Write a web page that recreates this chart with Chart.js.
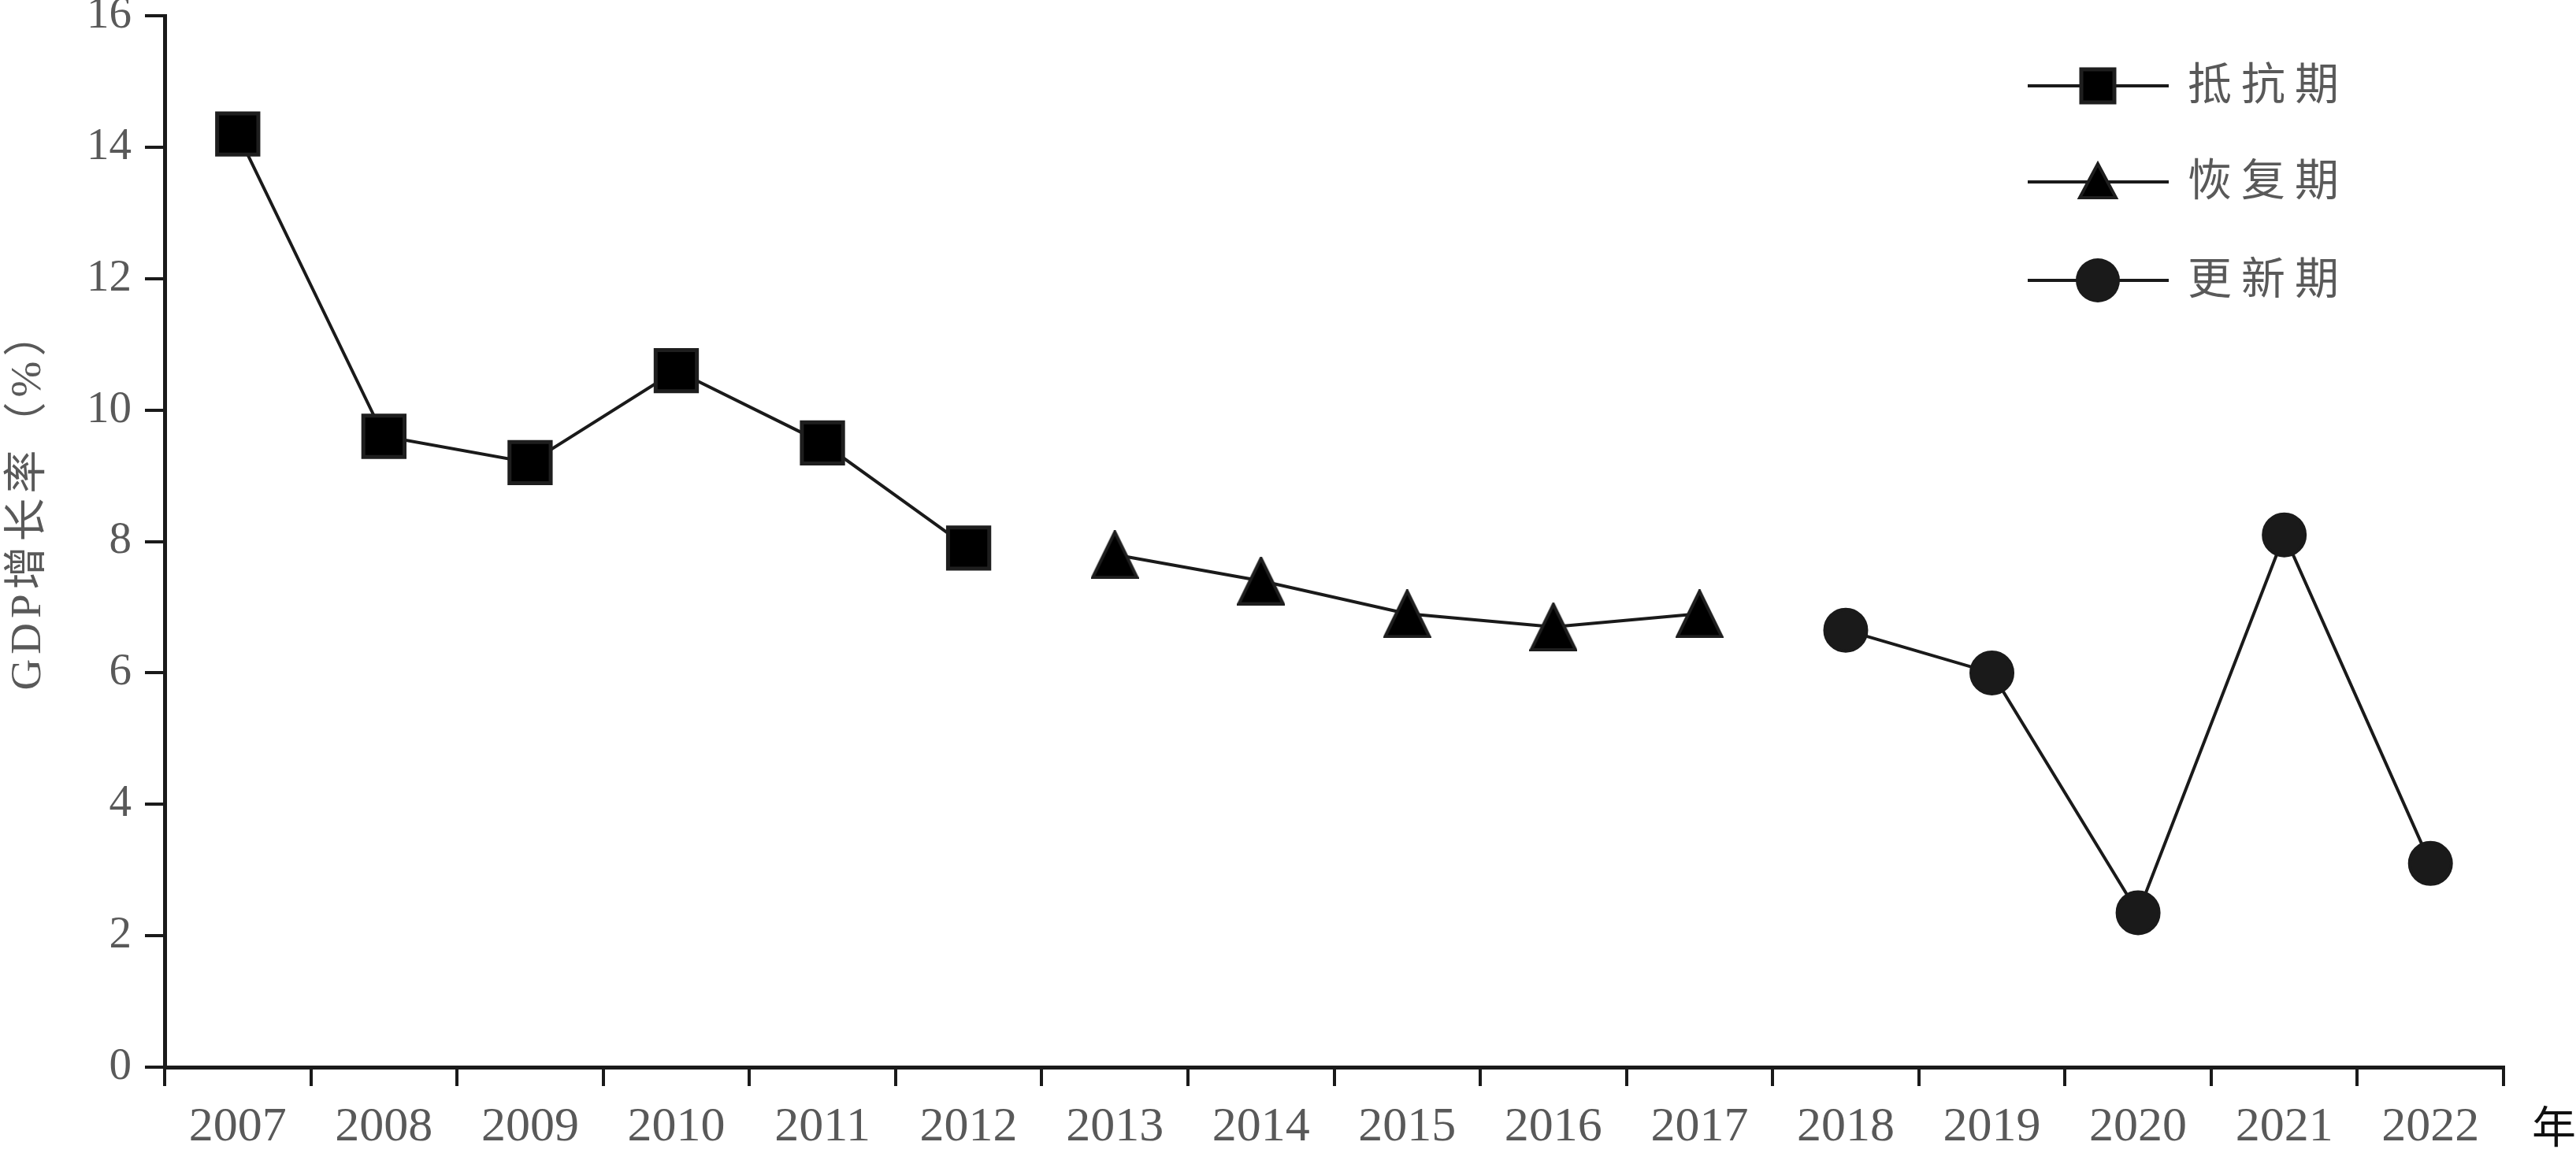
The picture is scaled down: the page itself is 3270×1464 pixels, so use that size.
<!DOCTYPE html>
<html><head><meta charset="utf-8">
<script src="https://cdn.jsdelivr.net/npm/chart.js@4.4.1/dist/chart.umd.min.js"></script>
<style>html,body{margin:0;padding:0;background:#fff;overflow:hidden}#c{display:block}</style>
</head><body>
<canvas id="c" width="3270" height="1464" style="width:3270px;height:1464px"></canvas>
<script>
// ---- data ----
const years = ['2007','2008','2009','2010','2011','2012','2013','2014','2015','2016','2017','2018','2019','2020','2021','2022'];
const resistanceYears = ['2007','2008','2009','2010','2011','2012'];
const resistanceValues = [14.2, 9.6, 9.2, 10.6, 9.5, 7.9];
const recoveryYears = ['2013','2014','2015','2016','2017'];
const recoveryValues = [7.8, 7.4, 6.9, 6.7, 6.9];
const renewalYears = ['2018','2019','2020','2021','2022'];
const renewalValues = [6.65, 6.0, 2.35, 8.1, 3.1];
const seriesNames = ['抵抗期', '恢复期', '更新期'];
const yMin = 0, yMax = 16, yStep = 2;
const yTitle = 'GDP增长率（%）';
const xUnit = '年';

// ---- styles ----
const INK = '#1a1a1a';
const TEXT = '#595959';
const SERIF = "'Liberation Serif', 'Noto Sans CJK SC', serif";

function triangleImage(w, h, lw) {
  const cv = document.createElement('canvas');
  cv.width = w; cv.height = h;
  const c = cv.getContext('2d');
  c.beginPath();
  c.moveTo(w / 2, lw * 0.6);
  c.lineTo(w - lw * 0.6, h - lw / 2);
  c.lineTo(lw * 0.6, h - lw / 2);
  c.closePath();
  c.fillStyle = '#000';
  c.fill();
  c.lineWidth = lw;
  c.lineJoin = 'miter';
  c.strokeStyle = '#1e1e1e';
  c.stroke();
  return cv;
}
const triImg = triangleImage(61, 62, 4);

function pairs(xs, ys) { return xs.map((x, i) => ({ x: x, y: ys[i] })); }

const datasets = [
  { label: seriesNames[0], data: pairs(resistanceYears, resistanceValues),
    borderColor: INK, borderWidth: 4, pointStyle: 'rect', pointRadius: 37,
    pointBackgroundColor: '#000', pointBorderColor: '#1e1e1e', pointBorderWidth: 5,
    tension: 0, fill: false },
  { label: seriesNames[1], data: pairs(recoveryYears, recoveryValues),
    borderColor: INK, borderWidth: 4, pointStyle: triImg, pointRadius: 31,
    pointBackgroundColor: '#000', pointBorderColor: '#1e1e1e', pointBorderWidth: 0,
    tension: 0, fill: false },
  { label: seriesNames[2], data: pairs(renewalYears, renewalValues),
    borderColor: INK, borderWidth: 4, pointStyle: 'circle', pointRadius: 26.5,
    pointBackgroundColor: INK, pointBorderColor: INK, pointBorderWidth: 4,
    tension: 0, fill: false }
];

const overlay = {
  id: 'overlay',
  afterDraw(chart) {
    const ctx = chart.ctx;
    ctx.save();
    // legend
    const rowsY = [109, 231, 356];
    const lx0 = 2574, lx1 = 2753, mx = 2663, tx = 2777;
    rowsY.forEach((y, i) => {
      ctx.beginPath();
      ctx.moveTo(lx0, y); ctx.lineTo(lx1, y);
      ctx.lineWidth = 4; ctx.strokeStyle = INK; ctx.stroke();
      ctx.beginPath();
      if (i === 0) {
        ctx.rect(mx - 21, y - 21, 42, 42);
        ctx.fillStyle = '#000'; ctx.fill();
        ctx.lineWidth = 5; ctx.strokeStyle = '#1e1e1e'; ctx.stroke();
      } else if (i === 1) {
        ctx.moveTo(mx, y - 23);
        ctx.lineTo(mx + 23, y + 20);
        ctx.lineTo(mx - 23, y + 20);
        ctx.closePath();
        ctx.fillStyle = '#000'; ctx.fill();
        ctx.lineWidth = 4; ctx.strokeStyle = '#1e1e1e'; ctx.stroke();
      } else {
        ctx.arc(mx, y, 28, 0, Math.PI * 2);
        ctx.fillStyle = INK; ctx.fill();
      }
      ctx.font = '56px ' + SERIF;
      ctx.fillStyle = TEXT;
      ctx.textAlign = 'left';
      ctx.textBaseline = 'middle';
      if ('letterSpacing' in ctx) ctx.letterSpacing = '12px';
      ctx.fillText(chart.data.datasets[i].label, tx, y + 2);
      if ('letterSpacing' in ctx) ctx.letterSpacing = '0px';
    });
    // x unit
    ctx.font = '56px ' + SERIF;
    ctx.fillStyle = '#111';
    ctx.textAlign = 'left';
    ctx.textBaseline = 'middle';
    ctx.fillText(xUnit, 3214, 1436);
    // y title
    ctx.translate(37, 637);
    ctx.rotate(-Math.PI / 2);
    ctx.font = '55px ' + SERIF;
    ctx.fillStyle = TEXT;
    ctx.textAlign = 'center';
    ctx.textBaseline = 'middle';
    if ('letterSpacing' in ctx) ctx.letterSpacing = '6px';
    ctx.fillText(yTitle, 3, 0);
    if ('letterSpacing' in ctx) ctx.letterSpacing = '0px';
    ctx.restore();
  }
};

new Chart(document.getElementById('c'), {
  type: 'line',
  data: { labels: years, datasets: datasets },
  options: {
    responsive: false,
    devicePixelRatio: 1,
    animation: false,
    layout: { autoPadding: false, padding: { left: 0, top: 20, right: 92, bottom: 0 } },
    plugins: { legend: { display: false }, tooltip: { enabled: false } },
    scales: {
      x: {
        type: 'category',
        offset: true,
        grid: { offset: true, drawOnChartArea: false, drawTicks: true, tickLength: 24, color: INK, lineWidth: 4 },
        border: { display: true, color: INK, width: 5 },
        ticks: { color: TEXT, font: { family: SERIF, size: 62 }, padding: 16, maxRotation: 0, autoSkip: false },
        afterFit(s) { s.height = 109; s.paddingLeft = 0; s.paddingRight = 0; }
      },
      y: {
        min: yMin, max: yMax,
        grid: { drawOnChartArea: false, drawTicks: true, tickLength: 25, color: INK, lineWidth: 4 },
        border: { display: true, color: INK, width: 5 },
        ticks: { stepSize: yStep, color: TEXT, font: { family: SERIF, size: 57, lineHeight: 0.5 }, padding: 17 },
        afterFit(s) { s.width = 209; s.paddingTop = 0; s.paddingBottom = 0; }
      }
    }
  },
  plugins: [overlay]
});
</script>
</body></html>
